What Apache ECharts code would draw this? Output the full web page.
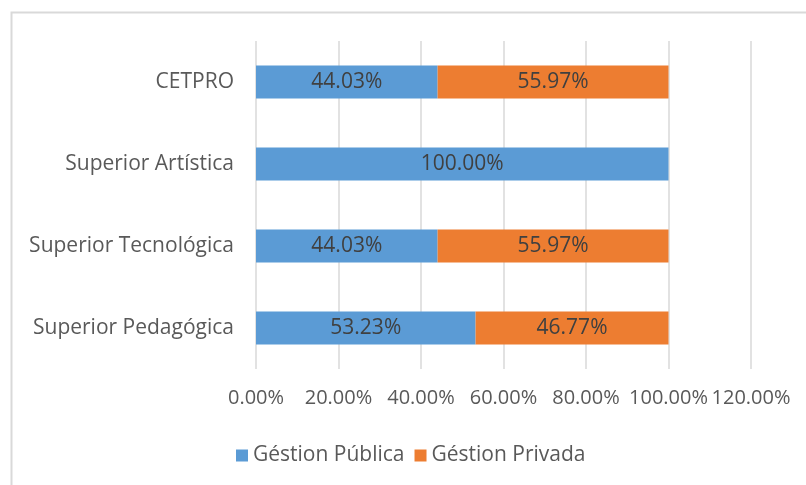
<!DOCTYPE html>
<html>
<head>
<meta charset="utf-8">
<script src="https://cdn.jsdelivr.net/npm/echarts@6/dist/echarts.min.js"></script>
<style>
  html, body { margin: 0; padding: 0; background: #fff; }
  #main { width: 806px; height: 485px; }
</style>
</head>
<body>
<div id="main"></div>
<script>
// categorias de abajo hacia arriba
var categories = ['Superior Pedagógica', 'Superior Tecnológica', 'Superior Artística', 'CETPRO'];
var publica = [53.23, 44.03, 100.00, 44.03];
var privada = [46.77, 55.97, 0, 55.97];
var seriesNames = ['Géstion Pública', 'Géstion Privada'];
var axisTicks = [0, 20, 40, 60, 80, 100, 120];

var font = 'Open Sans';
var fs = 21;
var myChart = echarts.init(document.getElementById('main'));

function pctLabel(p) {
    if (!p.value) return '';
    return p.value.toFixed(2) + '%';
}

myChart.setOption({
    animation: false,
    textStyle: { fontFamily: font },
    graphic: [{
        type: 'rect',
        shape: { x: 11.5, y: 12.5, width: 900, height: 600 },
        style: { fill: 'none', stroke: '#d9d9d9', lineWidth: 2 },
        silent: true
    }],
    legend: {
        data: seriesNames,
        left: 231,
        top: 440,
        itemWidth: 12,
        itemHeight: 12,
        itemGap: 10,
        icon: 'rect',
        textStyle: { color: '#595959', fontSize: fs, fontFamily: font }
    },
    grid: { left: 256, right: 55, top: 41, bottom: 116 },
    xAxis: {
        type: 'value',
        min: axisTicks[0],
        max: axisTicks[axisTicks.length - 1],
        interval: 20,
        axisLine: { show: false },
        axisTick: { show: false },
        splitLine: { lineStyle: { color: '#d9d9d9', width: 1.5 } },
        axisLabel: {
            color: '#595959',
            fontSize: 20,
            margin: 19,
            formatter: function (v) { return v.toFixed(2) + '%'; }
        }
    },
    yAxis: {
        type: 'category',
        data: categories,
        axisLine: { show: false },
        axisTick: { show: false },
        axisLabel: { color: '#595959', fontSize: fs, margin: 22 }
    },
    series: [{
        name: seriesNames[0],
        type: 'bar',
        stack: 'total',
        barWidth: '40%',
        itemStyle: { color: '#5b9bd5' },
        label: { show: true, position: 'inside', color: '#404040', fontSize: fs, formatter: pctLabel },
        data: publica
    }, {
        name: seriesNames[1],
        type: 'bar',
        stack: 'total',
        itemStyle: { color: '#ed7d31' },
        label: { show: true, position: 'inside', color: '#404040', fontSize: fs, formatter: pctLabel },
        data: privada
    }]
});
</script>
</body>
</html>
